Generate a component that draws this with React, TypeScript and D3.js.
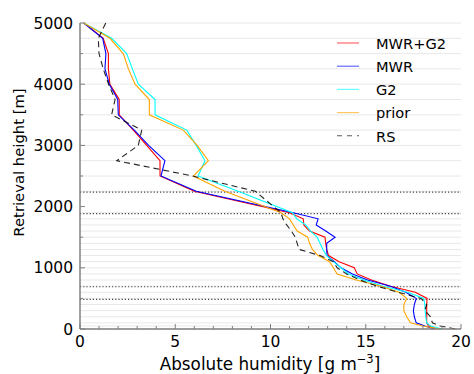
import React from "react";
import * as d3 from "d3";

const heights = [5000, 4750, 4500, 4250, 4000, 3750, 3500, 3250, 3000, 2750, 2500, 2250,
  1900, 1800, 1700, 1600, 1500, 1400, 1300, 1200, 1100, 1000, 900, 800, 700, 600, 500, 400, 300, 200, 100,
  50, 0];

const mwrG2 = [0.2, 1.22, 1.49, 1.49, 1.57, 2.06, 2.06, 2.8, 3.5, 4.2, 4.2, 6.0,
  11.0, 11.72, 11.75, 12.05, 12.86, 12.9, 12.95, 13.05, 13.6, 14.4, 14.55, 15.3, 16.3, 17.6, 18.22, 18.2, 18.2, 18.2, 18.2,
  18.3, 18.7];
const mwr = [0.2, 1.19, 1.36, 1.31, 1.54, 1.98, 2.01, 2.85, 3.6, 4.46, 4.25, 6.1,
  11.2, 12.5, 12.4, 12.9, 13.39, 12.95, 12.95, 12.97, 13.35, 13.7, 14.3, 15.1, 16.3, 17.1, 17.65, 17.55, 17.5, 17.55, 17.65,
  18.1, 18.6];
const g2 = [0.2, 1.66, 2.45, 2.75, 3.06, 3.94, 3.94, 5.6, 6.1, 6.56, 6.2, 8.3,
  11.15, 11.38, 11.85, 12.1, 12.45, 12.6, 12.75, 12.95, 13.3, 13.7, 14.1, 14.9, 15.9, 17.2, 18.05, 18.1, 18.12, 18.15, 18.2,
  18.4, 19.0];
const prior = [0.2, 1.57, 2.27, 2.54, 2.89, 3.64, 3.64, 5.42, 6.15, 6.74, 5.95, 7.6,
  10.55, 11.0, 11.2, 11.4, 11.95, 12.05, 12.2, 12.5, 13.1, 13.3, 13.5, 14.5, 15.8, 16.75, 17.15, 17.0, 17.0, 17.15, 17.35,
  18.0, 18.9];
const rs = [1.35, 0.96, 1.0, 1.22, 1.5, 1.84, 1.66, 3.24, 3.06, 1.93, 5.9, 9.2,
  10.55, 10.65, 10.85, 11.1, 11.3, 11.4, 11.5, 12.6, 13.3, 13.5, 14.0, 14.7, 15.6, 16.7, 17.9, 18.2, 18.1, 18.4, 18.5,
  18.9, 19.7];

const dottedHeights = [2235, 1885, 690, 485];

const seriesNames = ["MWR+G2", "MWR", "G2", "prior", "RS"];
const seriesValues = [mwrG2, mwr, g2, prior, rs];
const seriesColors = ["#ff0000", "#0000ff", "#00ffff", "#ffa500", "#000000"];

const xTicks = [0, 5, 10, 15, 20];
const yTicks = [0, 1000, 2000, 3000, 4000, 5000];

export default function App() {
  const W = 474, H = 374;
  const x = d3.scaleLinear().domain([0, 20]).range([80, 461]);
  const y = d3.scaleLinear().domain([0, 5000]).range([329, 23]);
  const font = "'DejaVu Sans', sans-serif";
  const axisColor = "#808080";

  const line = (vals: number[]) =>
    d3.line<number>().x((v) => x(v)).y((_, i) => y(heights[i]))(vals) || "";

  const xMinor = d3.range(0, 21, 1);
  const yMinor = d3.range(0, 5001, 500);

  return (
    <svg width={W} height={H} style={{ position: "absolute", left: 0, top: 0, background: "#fff", fontFamily: font }}>
      {heights.map((h) => (
        <line key={"g" + h} x1={x(0)} x2={x(20)} y1={y(h)} y2={y(h)} stroke="#e8e8e8" strokeWidth={1} />
      ))}
      {dottedHeights.map((h) => (
        <line key={"d" + h} x1={x(0)} x2={x(20)} y1={y(h)} y2={y(h)} stroke="#444" strokeWidth={1.2}
          strokeDasharray="1.2,2" />
      ))}
      {seriesValues.map((vals, i) => (
        <path key={"s" + i} d={line(vals)} fill="none" stroke={seriesColors[i]}
          strokeWidth={1.1}
          strokeDasharray={i === 4 ? "6,4" : undefined}
          strokeOpacity={i === 4 ? 0.85 : 1} />
      ))}
      <line x1={x(0)} x2={x(0)} y1={y(0)} y2={y(5000)} stroke={axisColor} strokeWidth={1.5} />
      <line x1={x(0)} x2={x(20)} y1={y(0)} y2={y(0)} stroke={axisColor} strokeWidth={1.5} />
      {xMinor.map((t) => (
        <line key={"xt" + t} x1={x(t)} x2={x(t)} y1={y(0)} y2={y(0) - (t % 5 === 0 ? 5 : 3)}
          stroke={axisColor} strokeWidth={1} />
      ))}
      {yMinor.map((t) => (
        <line key={"yt" + t} x1={x(0)} x2={x(0) + (t % 1000 === 0 ? 5 : 3)} y1={y(t)} y2={y(t)}
          stroke={axisColor} strokeWidth={1} />
      ))}
      {xTicks.map((t) => (
        <text key={"xl" + t} x={x(t)} y={347} textAnchor="middle" fontSize={15.5} fill="#000">{t}</text>
      ))}
      {yTicks.map((t) => (
        <text key={"yl" + t} x={73} y={y(t) + 5.6} textAnchor="end" fontSize={15.5} fill="#000">{t}</text>
      ))}
      <text x={270} y={370} textAnchor="middle" fontSize={16.8} fill="#000">
        Absolute humidity [g m<tspan dy={-7} fontSize={11.5}>−3</tspan><tspan dy={7}>]</tspan>
      </text>
      <text transform={`translate(24,162.5) rotate(-90)`} textAnchor="middle" fontSize={14.8} fill="#000">
        Retrieval height [m]
      </text>
      {seriesNames.map((n, i) => {
        const ly = 43 + i * 23.2;
        return (
          <g key={"lg" + i}>
            <line x1={337} x2={359} y1={ly} y2={ly} stroke={seriesColors[i]} strokeWidth={1.1}
              strokeOpacity={0.65} strokeDasharray={i === 4 ? "5,5" : undefined} />
            <text x={376} y={ly + 5.8} fontSize={14.6} fill="#000">{n}</text>
          </g>
        );
      })}
    </svg>
  );
}
